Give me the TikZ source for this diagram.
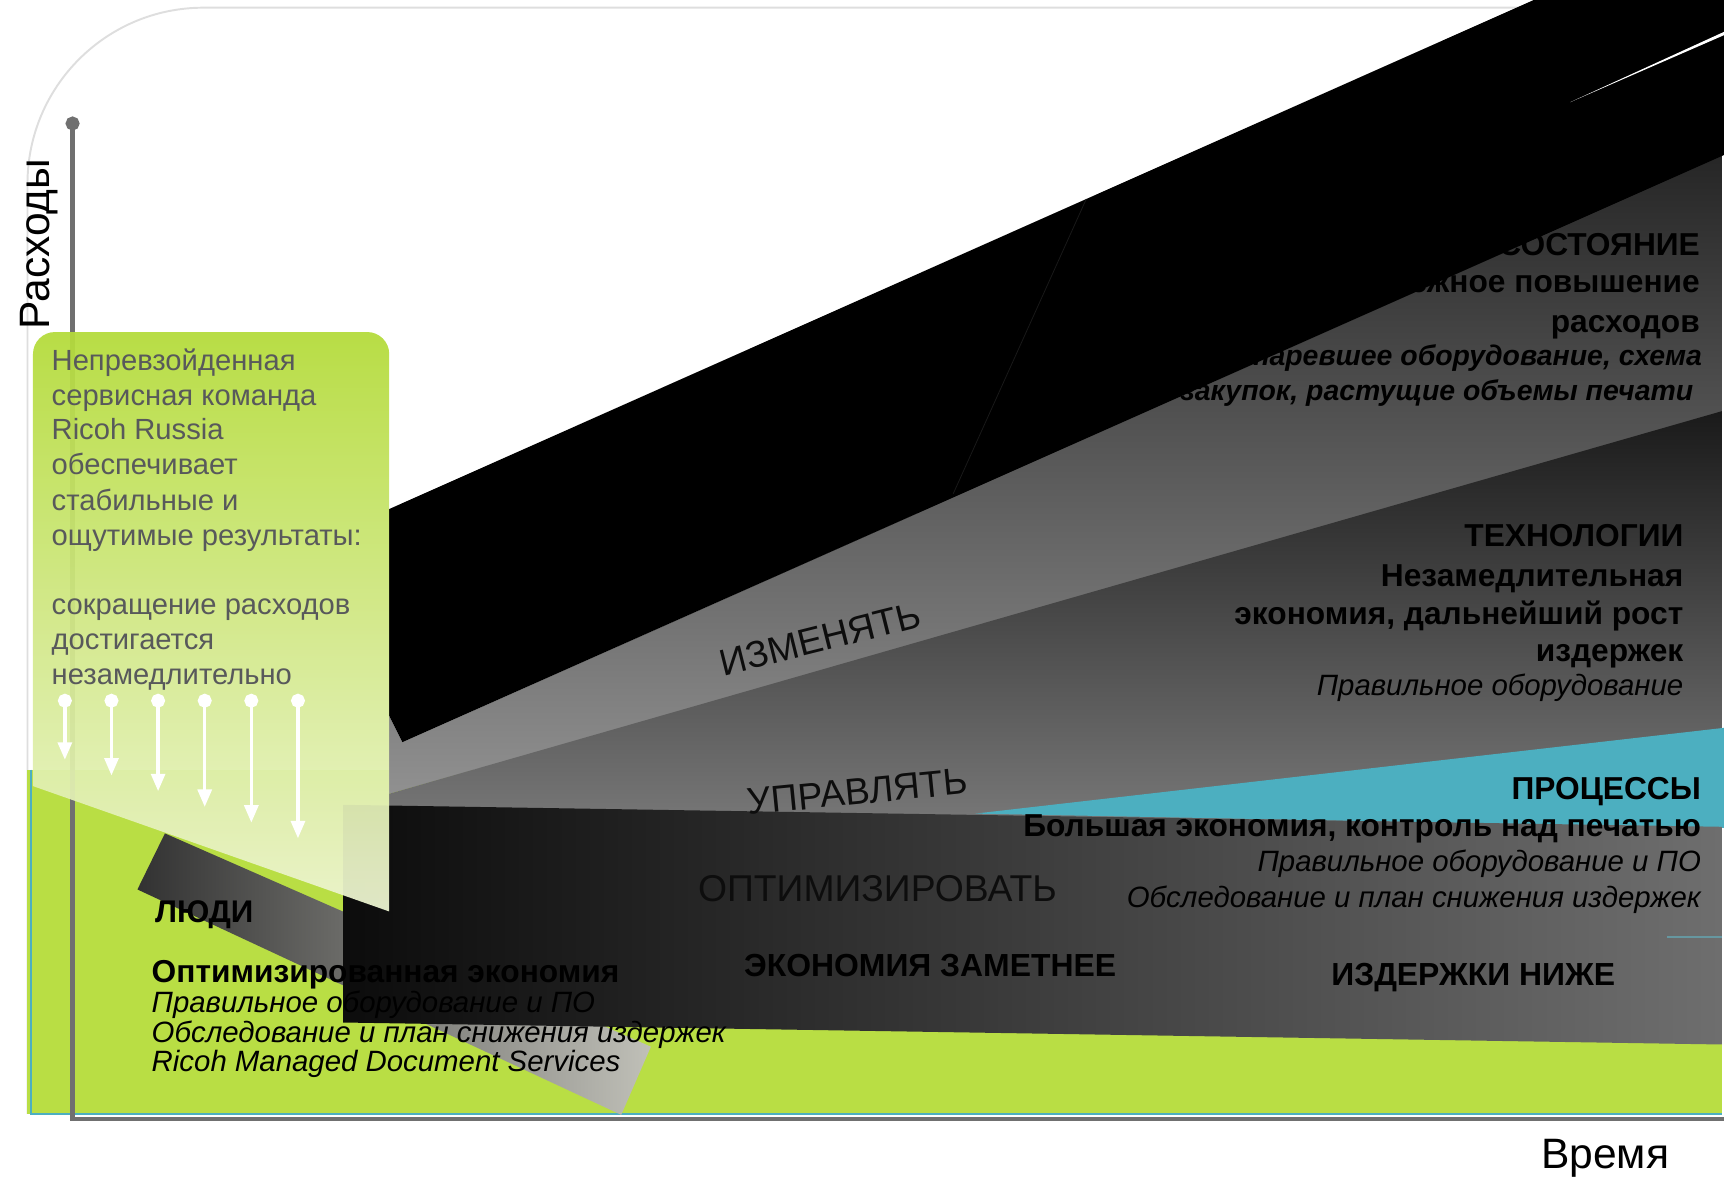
\documentclass[tikz,border=0pt]{standalone}
\usepackage{fontspec}
\setmainfont{Liberation Sans}
\usetikzlibrary{arrows.meta}

\definecolor{limegreen}{RGB}{185,222,68}
\definecolor{boxtop}{RGB}{180,219,58}
\definecolor{boxbot}{RGB}{242,247,222}
\definecolor{procblue}{RGB}{76,175,192}
\definecolor{axisgray}{RGB}{112,112,112}
\definecolor{boxtext}{RGB}{88,89,91}
\definecolor{framegray}{RGB}{222,222,222}
\definecolor{changetop}{RGB}{38,38,38}
\definecolor{changebot}{RGB}{144,144,144}
\definecolor{techtop}{RGB}{26,26,26}
\definecolor{techbot}{RGB}{122,122,122}
\definecolor{optleft}{RGB}{12,12,12}
\definecolor{optright}{RGB}{110,110,110}
\definecolor{peopleleft}{RGB}{50,50,50}
\definecolor{peopleright}{RGB}{192,192,184}

\begin{document}
\begin{tikzpicture}[x=0.01cm,y=-0.01cm,
    every node/.style={inner sep=0pt,outer sep=0pt},
    boxline/.style={anchor=base west,text=boxtext,font=\fontsize{7.55}{9}\selectfont},
    headline/.style={anchor=base east,font=\fontsize{8.2}{10}\selectfont\bfseries},
    curnote/.style={anchor=base east,font=\fontsize{7.35}{10}\selectfont\bfseries\itshape},
    noteline/.style={anchor=base east,font=\fontsize{7.6}{10}\selectfont\itshape},
    peopleline/.style={anchor=base west,font=\fontsize{7.6}{10}\selectfont\itshape},
    stagelabel/.style={text=black!95,font=\fontsize{9.65}{11}\selectfont},
    resultlabel/.style={anchor=base,font=\fontsize{8.25}{10}\selectfont\bfseries},
    axislabel/.style={anchor=base,font=\fontsize{11}{13}\selectfont},
    droparrow/.style={white,line width=0.85pt,{Circle[length=3.6pt]}-{Triangle[width=3.6pt,length=4.5pt]}}]
\useasboundingbox (0,0) rectangle (1568,1071);

\draw[framegray,line width=0.5pt,rounded corners=1.6cm] (25,1013) -- (25,7) -- (1568,7);

\fill[limegreen] (25,700) rectangle (1566,1013);
\draw[procblue,line width=0.6pt] (28,700) -- (28,1013) -- (1566,1013);

% bands
\shade[top color=changetop,bottom color=changebot] (366,675) -- (1566,141) -- (1566,380) -- (354,722) -- (354,651) -- cycle;

\node[headline] (cur1) at (1546,232) {СОСТОЯНИЕ};
\node[headline] (cur2) at (1546,266) {ежное повышение};
\node[headline] (cur3) at (1546,302) {расходов};
\node[curnote] (cur4) at (1548,332) {старевшее оборудование, схема};
\node[curnote] (cur5) at (1540,364) {закупок, растущие объемы печати};

\shade[top color=techtop,bottom color=techbot] (354,722) -- (1566,374) -- (1566,760) -- (354,760) -- cycle;

\node[headline] (tech1) at (1531,497) {ТЕХНОЛОГИИ};
\node[headline] (tech2) at (1531,533) {Незамедлительная};
\node[headline] (tech3) at (1531,568) {экономия, дальнейший рост};
\node[headline] (tech4) at (1531,602) {издержек};
\node[noteline] (tech5) at (1531,633) {Правильное оборудование};

\fill[procblue] (887,740) -- (1568,662) -- (1568,753) -- cycle;

\shade[left color=peopleleft,right color=peopleright] (150,758) -- (592,952) -- (565,1014) -- (125,809) -- cycle;

\shade[left color=optleft,right color=optright] (312,732) -- (1566,752) -- (1566,950) -- (312,930) -- cycle;
\draw[procblue!50!gray,line width=0.4pt] (1516,852) -- (1566,852);

\node[headline] (proc1) at (1547,727) {ПРОЦЕССЫ};
\node[headline] (proc2) at (1547,761) {Большая экономия, контроль над печатью};
\node[noteline] (proc3) at (1547,793) {Правильное оборудование и ПО};
\node[noteline] (proc4) at (1547,825) {Обследование и план снижения издержек};

\node[stagelabel,rotate=14] (change) at (746,581) {ИЗМЕНЯТЬ};
\node[stagelabel,rotate=5.6] (manage) at (780,720) {УПРАВЛЯТЬ};
\node[stagelabel,anchor=base] (optimize) at (798,820) {ОПТИМИЗИРОВАТЬ};
\node[resultlabel] (savings) at (846,888) {ЭКОНОМИЯ ЗАМЕТНЕЕ};
\node[resultlabel] (costs) at (1340,896) {ИЗДЕРЖКИ НИЖЕ};

\fill[black] (354,463) -- (1395,0) -- (1568,0) -- (1568,141) -- (366,675) -- (354,651) -- cycle;
\draw[black!90,line width=0.2pt] (988,181) -- (867,449);
\fill[white] (1428,93) -- (1568,29) -- (1568,32) -- cycle;

% axes
\coordinate (ytop) at (66,106);
\coordinate (origin) at (66,1018);
\coordinate (xend) at (1568,1018);
\draw[axisgray,line width=1.1pt,{Circle[length=3.6pt]}-] (ytop) -- (origin) -- (xend);
\node[axislabel,rotate=90] (costaxis) at (45,222) {Расходы};
\node[axislabel] (timeaxis) at (1460,1063) {Время};

% callout
\begin{scope}
  \clip (30,300) -- (354,300) -- (354,829) -- (30,715) -- cycle;
  \shade[top color=boxtop,bottom color=boxbot,rounded corners=0.2cm,fill opacity=0.94] (30,302) rectangle (354,870);
\end{scope}

\node[boxline] (t1) at (47,337) {Непревзойденная};
\node[boxline] (t2) at (47,369) {сервисная команда};
\node[boxline] (t3) at (47,400) {Ricoh Russia};
\node[boxline] (t4) at (47,432) {обеспечивает};
\node[boxline] (t5) at (47,464) {стабильные и};
\node[boxline] (t6) at (47,496) {ощутимые результаты:};
\node[boxline] (t7) at (47,559) {сокращение расходов};
\node[boxline] (t8) at (47,591) {достигается};
\node[boxline] (t9) at (47,623) {незамедлительно};

\foreach \i in {0,...,5} {
  \coordinate (s\i) at ({59+42.4*\i},631);
  \coordinate (e\i) at ({59+42.4*\i},{691+14.3*\i});
  \draw[droparrow] (s\i) -- (e\i);
}

% people
\node[anchor=base west,font=\fontsize{8.1}{10}\selectfont\bfseries] (people) at (141,839) {ЛЮДИ};
\node[anchor=base west,font=\fontsize{8.2}{10}\selectfont\bfseries] (p1) at (138,894) {Оптимизированная экономия};
\node[peopleline] (p2) at (138,921) {Правильное оборудование и ПО};
\node[peopleline] (p3) at (138,948) {Обследование и план снижения издержек};
\node[peopleline] (p4) at (138,975) {Ricoh Managed Document Services};
\end{tikzpicture}
\end{document}
